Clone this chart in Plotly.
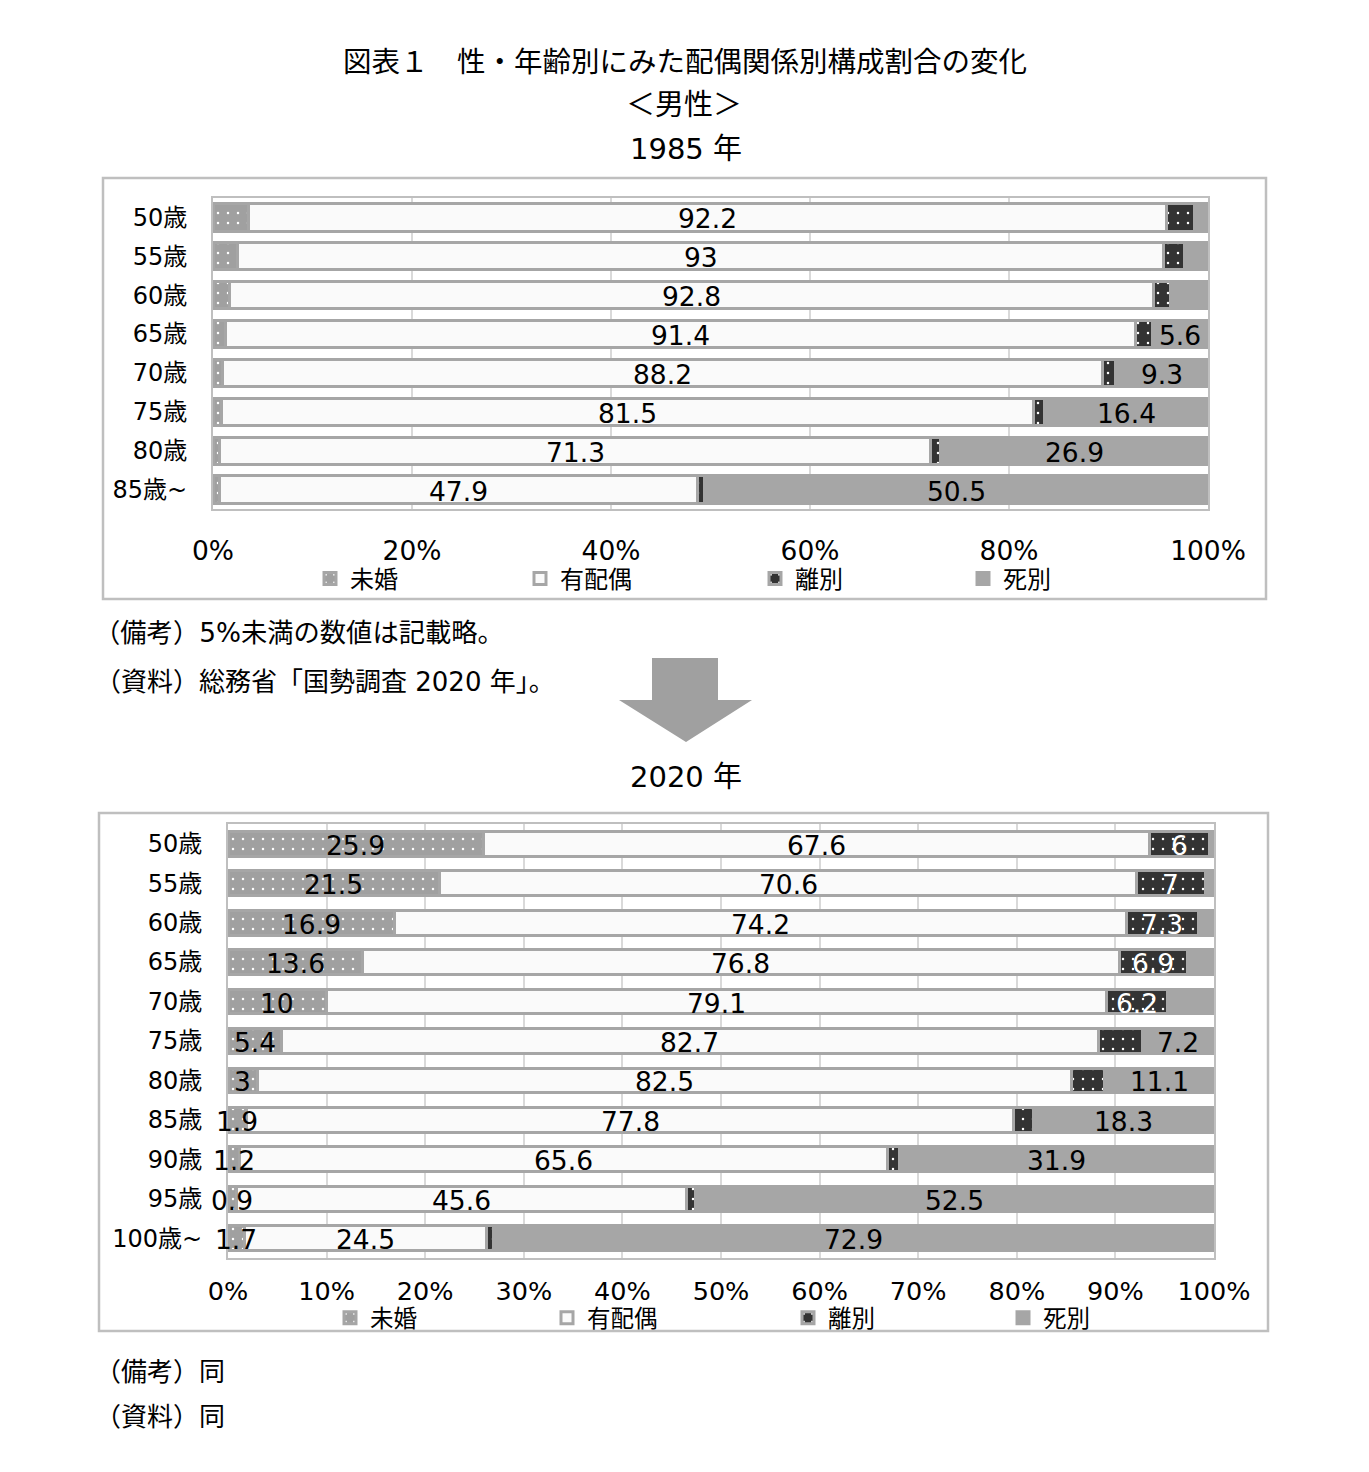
import plotly.graph_objects as go

# page is rendered with the default 8px body margin; keep the figure inside it
W, H = 1369, 1472
OFF = 8
FW, FH = W - 2 * OFF, H - 2 * OFF
FONT = "DejaVu Sans, Noto Sans CJK JP, sans-serif"

# ---------------- data ----------------
series = ["未婚", "有配偶", "離別", "死別"]

ages_1985 = ["50歳", "55歳", "60歳", "65歳", "70歳", "75歳", "80歳", "85歳~"]
unmarried_1985 = [3.6, 2.5, 1.7, 1.3, 1.0, 0.9, 0.7, 0.7]
married_1985 = [92.2, 93.0, 92.8, 91.4, 88.2, 81.5, 71.3, 47.9]
divorced_1985 = [2.8, 2.1, 1.7, 1.7, 1.3, 1.1, 1.0, 0.7]
widowed_1985 = [1.4, 2.4, 3.8, 5.6, 9.3, 16.4, 26.9, 50.5]

ages_2020 = ["50歳", "55歳", "60歳", "65歳", "70歳", "75歳", "80歳", "85歳",
             "90歳", "95歳", "100歳~"]
unmarried_2020 = [25.9, 21.5, 16.9, 13.6, 10.0, 5.4, 3.0, 1.9, 1.2, 0.9, 1.7]
married_2020 = [67.6, 70.6, 74.2, 76.8, 79.1, 82.7, 82.5, 77.8, 65.6, 45.6, 24.5]
divorced_2020 = [6.0, 7.0, 7.3, 6.9, 6.2, 4.5, 3.3, 2.0, 1.2, 0.9, 0.7]
widowed_2020 = [0.5, 0.9, 1.6, 2.7, 4.7, 7.2, 11.1, 18.3, 31.9, 52.5, 72.9]

ticks_1985 = [0, 20, 40, 60, 80, 100]
ticks_2020 = [0, 10, 20, 30, 40, 50, 60, 70, 80, 90, 100]

# label thresholds (values below are not printed)
min_label_1985 = [5, 5, 5, 5]
min_label_2020 = [0, 0, 5, 5]


def px(x):
    return (x - OFF) / FW


def py(y):
    return 1 - (y - OFF) / FH


def fmt(v, minv):
    return f"{v:g}" if v >= minv else ""


EDGE = "#a6a6a6"
styles = {
    "未婚": dict(color="#a0a0a0",
                 pattern=dict(shape=".", fgcolor="white", bgcolor="#a0a0a0",
                              size=10, solidity=0.05, fillmode="replace"),
                 tc="black"),
    "有配偶": dict(color="#fafafa", pattern=None, tc="black"),
    "離別": dict(color="#333333",
                 pattern=dict(shape=".", fgcolor="white", bgcolor="#333333",
                              size=10, solidity=0.05, fillmode="replace"),
                 tc="white"),
    "死別": dict(color="#a6a6a6", pattern=None, tc="black"),
}

fig = go.Figure()
label_anns = []


def add_chart(ages, data, mins, xa, ya, legends, width):
    for name, vals, lg in zip(series, data, legends):
        st = styles[name]
        marker = dict(color=st["color"], line=dict(color=EDGE, width=3))
        if st["pattern"]:
            marker["pattern"] = st["pattern"]
        fig.add_trace(go.Bar(
            name=name, y=ages, x=vals, orientation="h",
            xaxis=xa, yaxis=ya, legend=lg, showlegend=True,
            marker=marker, width=width, hoverinfo="skip",
        ))
    # data labels on top of all bars, centred in each normalised segment
    totals = [sum(col) for col in zip(*data)]
    cum = [0.0] * len(ages)
    for name, vals, mn in zip(series, data, mins):
        for age, c, v, t in zip(ages, cum, vals, totals):
            txt = fmt(v, mn)
            if txt:
                label_anns.append(dict(
                    x=(c + v / 2) / t * 100, y=age, xref=xa, yref=ya,
                    text=txt, showarrow=False, xanchor="center",
                    yanchor="middle", yshift=-1.5,
                    font=dict(family=FONT, size=26.5,
                              color=styles[name]["tc"])))
        cum = [c + v for c, v in zip(cum, vals)]


add_chart(ages_1985, [unmarried_1985, married_1985, divorced_1985, widowed_1985],
          min_label_1985, "x", "y",
          ["legend", "legend2", "legend3", "legend4"], 0.7)
add_chart(ages_2020, [unmarried_2020, married_2020, divorced_2020, widowed_2020],
          min_label_2020, "x2", "y2",
          ["legend5", "legend6", "legend7", "legend8"], 0.63)

axis_common = dict(showline=True, mirror=True, linecolor="#bfbfbf", linewidth=2,
                   zeroline=False, ticks="", automargin=False)
xcommon = dict(axis_common, range=[0, 100], showgrid=True,
               gridcolor="#d9d9d9", gridwidth=2)
ycommon = dict(axis_common, autorange="reversed", type="category", showgrid=False,
               ticklabelstandoff=19,
               tickfont=dict(family=FONT, size=24, color="black"))


def leg(x_symbol, y, size):
    return dict(orientation="h", xanchor="left", yanchor="middle",
                x=px(x_symbol - 20), y=py(y),
                font=dict(family=FONT, size=size, color="black"),
                bgcolor="rgba(0,0,0,0)")


legend_x_1985 = [330, 540, 775, 983]
legend_x_2020 = [350, 567, 808, 1023]
legend_layout = {}
for i, xs in enumerate(legend_x_1985):
    legend_layout["legend" if i == 0 else f"legend{i + 1}"] = leg(xs, 579, 24)
for i, xs in enumerate(legend_x_2020):
    legend_layout[f"legend{i + 5}"] = leg(xs, 1318, 23.5)

shapes = [
    dict(type="rect", xref="paper", yref="paper", x0=px(103), x1=px(1266),
         y0=py(599), y1=py(178), line=dict(color="#bfbfbf", width=2.5)),
    dict(type="rect", xref="paper", yref="paper", x0=px(99), x1=px(1268),
         y0=py(1331), y1=py(813), line=dict(color="#bfbfbf", width=2.5)),
]
arrow_pts = [(652, 658), (718, 658), (718, 700), (752, 700), (686, 742),
             (619, 700), (652, 700)]
path = "M " + " L ".join(f"{px(x):.5f},{py(y):.5f}" for x, y in arrow_pts) + " Z"
shapes.append(dict(type="path", xref="paper", yref="paper", path=path,
                   fillcolor="#a0a0a0", line=dict(width=0)))


def ann(text, x, y, size, xanchor="center"):
    return dict(text=text, x=px(x), y=py(y), xref="paper", yref="paper",
                xanchor=xanchor, yanchor="middle", showarrow=False,
                font=dict(family=FONT, size=size, color="black"))


annotations = [
    ann("図表１　性・年齢別にみた配偶関係別構成割合の変化", 685, 63, 28.5),
    ann("＜男性＞", 684, 105, 29),
    ann("1985 年", 686, 149, 29),
    ann("（備考）5%未満の数値は記載略。", 92, 633, 26.3, "left"),
    ann("（資料）総務省「国勢調査 2020 年」。", 93, 682, 26, "left"),
    ann("2020 年", 686, 777, 29),
    ann("（備考）同", 93, 1372, 26, "left"),
    ann("（資料）同", 93, 1417, 26, "left"),
] + label_anns

fig.update_layout(
    width=FW, height=FH, autosize=False,
    margin=dict(l=0, r=0, t=0, b=0, pad=0, autoexpand=False),
    paper_bgcolor="white", plot_bgcolor="white",
    barmode="stack", barnorm="percent", showlegend=True,
    font=dict(family=FONT, color="black"),
    xaxis=dict(xcommon, domain=[px(213), px(1208)], anchor="y",
               tickvals=ticks_1985, ticktext=[f"{t}%" for t in ticks_1985],
               ticklabelstandoff=17,
               tickfont=dict(family=FONT, size=26.5, color="black")),
    yaxis=dict(ycommon, domain=[py(509), py(198)], anchor="x"),
    xaxis2=dict(xcommon, domain=[px(228), px(1214)], anchor="y2",
                tickvals=ticks_2020, ticktext=[f"{t}%" for t in ticks_2020],
                ticklabelstandoff=9,
                tickfont=dict(family=FONT, size=25.5, color="black")),
    yaxis2=dict(ycommon, domain=[py(1258), py(824)], anchor="x2"),
    shapes=shapes,
    annotations=annotations,
    **legend_layout,
)

fig.write_html("out.html")
